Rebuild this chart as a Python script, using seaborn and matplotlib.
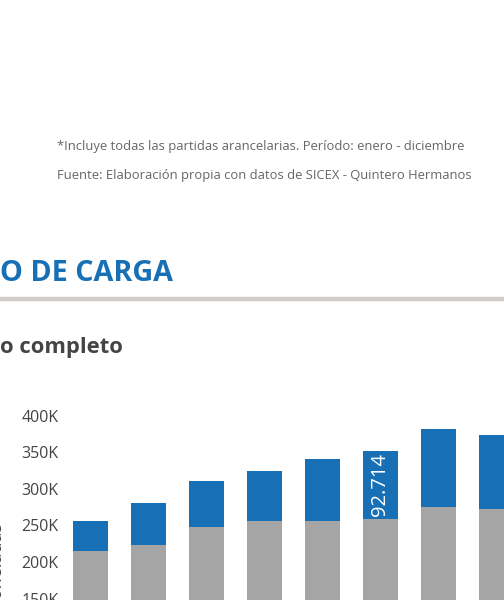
import matplotlib.pyplot as plt
import pandas as pd
import seaborn as sns
from matplotlib.ticker import FuncFormatter

# data (thousands of tonnes)
years = ["2015", "2016", "2017", "2018", "2019", "2020", "2021", "2022"]
gray_part = [215.0, 223.4, 248.0, 256.0, 256.0, 259.1, 275.3, 272.6]
blue_part = [41.0, 57.3, 62.8, 68.5, 84.8, 92.714, 106.5, 101.0]
label_idx = 5
label_text = "92.714"

BLUE = "#1770b5"
GRAY = "#a5a5a5"

df = pd.DataFrame({"year": years, "gray": gray_part, "blue": blue_part})
df["total"] = df["gray"] + df["blue"]
df["gray_v"] = df["gray"] * 1000
df["total_v"] = df["total"] * 1000

sns.set_style("white")
plt.rcParams["font.family"] = ["Open Sans", "DejaVu Sans"]

fig = plt.figure(figsize=(5.04, 6.0), dpi=100)

# notes
fig.text(57 / 504, 1 - 146 / 600,
         "*Incluye todas las partidas arancelarias. Período: enero - diciembre",
         fontsize=9.35, color="#666666", va="center", ha="left")
fig.text(57 / 504, 1 - 176 / 600,
         "Fuente: Elaboración propia con datos de SICEX - Quintero Hermanos",
         fontsize=9.35, color="#666666", va="center", ha="left")

# section title
fig.text(0.0, 1 - 273 / 600, "O DE CARGA", fontsize=20.7, fontweight="bold",
         color=BLUE, va="center", ha="left")
fig.add_artist(plt.Line2D([0, 1], [1 - 299 / 600, 1 - 299 / 600],
                          color="#d0cdcb", linewidth=3.2))
fig.text(0.0, 1 - 347 / 600, "o completo", fontsize=15.8, fontweight="bold",
         color="#444444", va="center", ha="left")

# chart axes (extends below the figure edge)
ax = fig.add_axes([61.5 / 504, -0.1808, 8 * 58 / 504, 0.5125])
sns.barplot(data=df, x="year", y="total_v", color=BLUE, width=0.6,
            saturation=1, linewidth=0, ax=ax)
sns.barplot(data=df, x="year", y="gray_v", color=GRAY, width=0.6,
            saturation=1, linewidth=0, ax=ax)
ax.set_ylim(0, 420000)
ax.set_xlim(-0.5, len(years) - 0.5)
ax.set_yticks([150000, 200000, 250000, 300000, 350000, 400000])
ax.yaxis.set_major_formatter(FuncFormatter(lambda v, p: f"{int(v / 1000)}K"))
ax.tick_params(axis="y", labelsize=11.5, labelcolor="#444444", length=0, pad=2)
ax.tick_params(axis="x", length=0, labelbottom=False)
ax.set_xlabel("")
ax.set_ylabel("")
sns.despine(ax=ax, left=True, bottom=True)

ax.text(label_idx, df["total_v"][label_idx] - 2500, label_text, rotation=90,
        ha="center", va="top", color="white", fontsize=14.5)

fig.text(6 / 504, 1 - 565 / 600, "Toneladas", rotation=90, ha="right",
         va="center", fontsize=13, color="#444444")

fig.savefig("out.png", dpi=100)
